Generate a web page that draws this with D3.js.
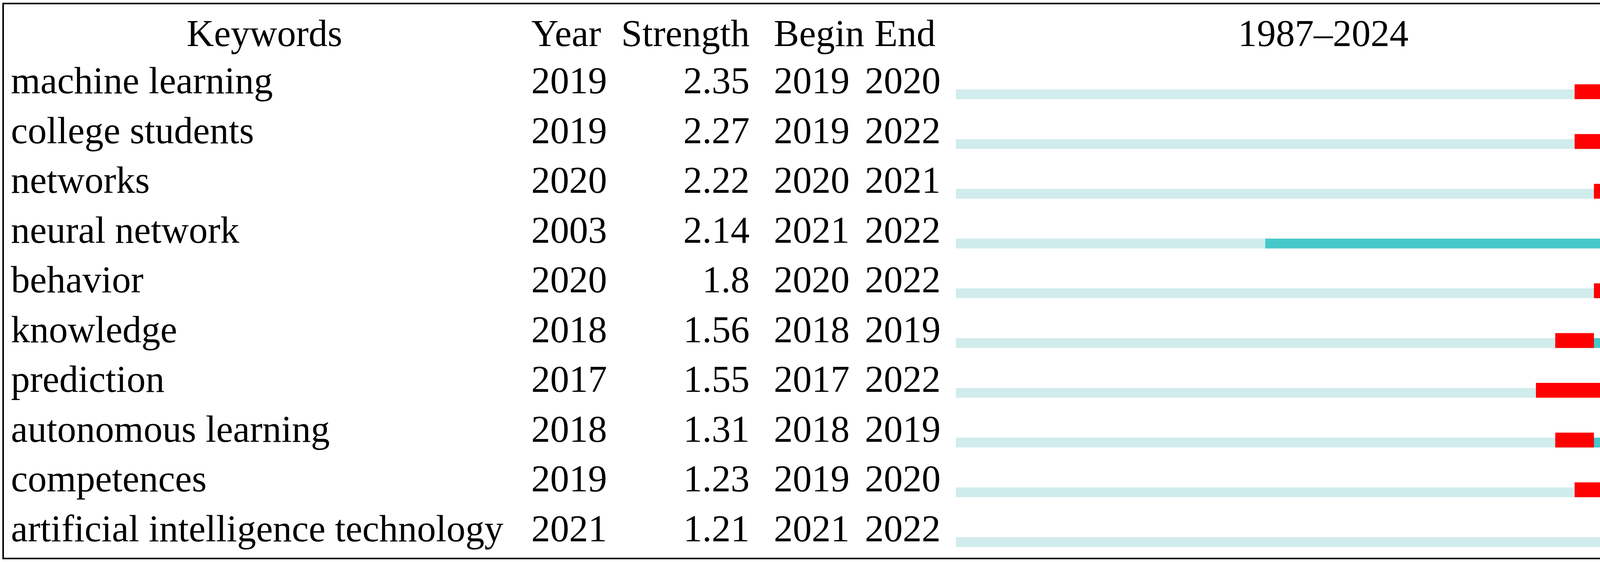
<!DOCTYPE html>
<html><head><meta charset="utf-8">
<script src="https://cdn.jsdelivr.net/npm/d3@7"></script>
<style>html,body{margin:0;padding:0;background:#fff;overflow:hidden}svg{display:block}text{font-family:"Liberation Serif","Times New Roman",serif;fill:#000}</style>
</head><body><div id="chart"></div>
<script>
// citation bursts table
var keywords = ["machine learning","college students","networks","neural network","behavior","knowledge","prediction","autonomous learning","competences","artificial intelligence technology"];
var years = [2019,2019,2020,2003,2020,2018,2017,2018,2019,2021];
var strengths = ["2.35","2.27","2.22","2.14","1.8","1.56","1.55","1.31","1.23","1.21"];
var begins = [2019,2019,2020,2021,2020,2018,2017,2018,2019,2021];
var ends = [2020,2022,2021,2022,2022,2019,2022,2019,2020,2022];
var firstYear = 1987, lastYear = 2024;

var W = 4393, H = 1440, fs = 97;
var svg = d3.select("#chart").append("svg").attr("width", W).attr("height", H);

svg.append("rect").attr("x", 8).attr("y", 9).attr("width", 4368).attr("height", 1422)
    .attr("fill", "none").attr("stroke", "#000").attr("stroke-width", 4);

var x = d3.scaleLinear().domain([firstYear, lastYear + 1]).range([2447, 4328]);
var y = d3.scaleBand().domain(d3.range(keywords.length)).range([127, 1402]);

// header
var hy = 118;
function head(t, px, anchor) {
    svg.append("text").attr("x", px).attr("y", hy).attr("font-size", fs)
        .attr("text-anchor", anchor).text(t);
}
head("Keywords", 677, "middle");
head("Year", 1360, "start");
head("Strength", 1919, "end");
head("Begin", 1981, "start");
head("End", 2317, "middle");
head(firstYear + "\u2013" + lastYear, (x(firstYear) + x(lastYear + 1)) / 2, "middle");

var rows = svg.selectAll("g.row").data(keywords).enter().append("g").attr("class", "row")
    .attr("transform", function(d, i) { return "translate(0," + y(i) + ")"; });
var base = 112;
rows.append("text").attr("x", 28).attr("y", base).attr("font-size", fs).text(function(d) { return d; });
rows.append("text").attr("x", 1360).attr("y", base).attr("font-size", fs).text(function(d, i) { return years[i]; });
rows.append("text").attr("x", 1919).attr("y", base).attr("font-size", fs).attr("text-anchor", "end").text(function(d, i) { return strengths[i]; });
rows.append("text").attr("x", 1981).attr("y", base).attr("font-size", fs).text(function(d, i) { return begins[i]; });
rows.append("text").attr("x", 2214).attr("y", base).attr("font-size", fs).text(function(d, i) { return ends[i]; });

var bb = 127; // bar bottom inside row
rows.append("rect").attr("x", x(firstYear)).attr("y", bb - 25)
    .attr("width", x(lastYear + 1) - x(firstYear)).attr("height", 25).attr("fill", "#D0ECEC");
rows.append("rect").attr("x", function(d, i) { return x(years[i]); }).attr("y", bb - 25)
    .attr("width", function(d, i) { return x(lastYear + 1) - x(years[i]); }).attr("height", 25).attr("fill", "#46C8C8");
rows.append("rect").attr("x", function(d, i) { return x(begins[i]); }).attr("y", bb - 38)
    .attr("width", function(d, i) { return x(ends[i] + 1) - x(begins[i]); }).attr("height", 38).attr("fill", "#FF0000");
</script></body></html>
